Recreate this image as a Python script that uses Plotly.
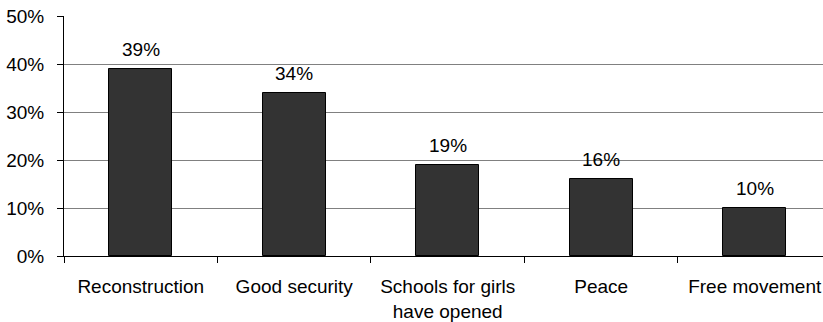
import plotly.graph_objects as go

categories = ["Reconstruction", "Good security", "Schools for girls<br>have opened", "Peace", "Free movement"]
values = [39, 34, 19, 16, 10]
labels = ["39%", "34%", "19%", "16%", "10%"]
yticks = [0, 10, 20, 30, 40, 50]
ytick_labels = ["0%", "10%", "20%", "30%", "40%", "50%"]

font = dict(family="Liberation Sans, Arial, sans-serif", size=19, color="#000000")

fig = go.Figure()
fig.add_trace(go.Bar(
    x=categories, y=values, width=0.41,
    marker=dict(color="#333333", line=dict(color="#000000", width=1)),
    hoverinfo="skip",
))
for c, v, t in zip(categories, values, labels):
    fig.add_annotation(x=c, y=v, text=t, showarrow=False, yanchor="bottom",
                       yshift=7, font=font)

fig.update_layout(
    width=823, height=322,
    margin=dict(l=64, r=0, t=16, b=64),
    paper_bgcolor="white", plot_bgcolor="white",
    showlegend=False, font=font,
    bargap=0,
)
fig.update_xaxes(
    type="category",
    range=[-0.5, 4.445],
    showline=True, linecolor="#000000", linewidth=1,
    tickson="boundaries", ticks="outside", ticklen=6, tickcolor="#000000", tickwidth=1,
    showgrid=False, zeroline=False,
    ticklabelstandoff=13,
)
fig.update_yaxes(
    range=[0, 50],
    tickmode="array", tickvals=yticks, ticktext=ytick_labels,
    showline=True, linecolor="#000000", linewidth=1,
    ticks="outside", ticklen=6, tickcolor="#000000",
    showgrid=True, gridcolor="#808080", gridwidth=1,
    zeroline=False, ticklabelstandoff=9,
)

fig.write_html("out.html")
